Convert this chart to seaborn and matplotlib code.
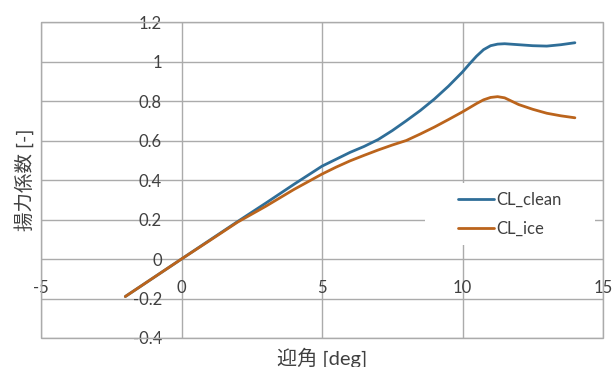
import pandas as pd
import matplotlib
matplotlib.use("Agg")
import matplotlib.pyplot as plt
from matplotlib.patches import Rectangle
from matplotlib.lines import Line2D
import seaborn as sns

# Data
aoa = [-2, -1, 0, 1, 2, 3, 4, 5, 5.5, 6, 6.5, 7, 7.5, 8, 8.5, 9, 9.5, 10, 10.25, 10.5, 10.75,
       11, 11.25, 11.5, 12, 12.5, 13, 13.5, 14]
cl_clean = [-0.19, -0.095, 0.0, 0.095, 0.19, 0.283, 0.378, 0.47, 0.505, 0.54, 0.57, 0.605, 0.65,
            0.70, 0.752, 0.81, 0.875, 0.947, 0.988, 1.027, 1.06, 1.08, 1.088, 1.09, 1.085,
            1.08, 1.078, 1.085, 1.095]
cl_ice = [-0.19, -0.095, 0.0, 0.093, 0.187, 0.267, 0.352, 0.43, 0.465, 0.497, 0.525, 0.552, 0.577,
          0.60, 0.633, 0.668, 0.706, 0.745, 0.766, 0.787, 0.806, 0.818, 0.822, 0.816, 0.782,
          0.758, 0.738, 0.725, 0.715]

xticks = [-5, 0, 5, 10, 15]
yticks = [-0.4, -0.2, 0, 0.2, 0.4, 0.6, 0.8, 1, 1.2]
ytick_labels = ["-0.4", "-0.2", "0", "0.2", "0.4", "0.6", "0.8", "1", "1.2"]
xtick_labels = ["-5", "0", "5", "10", "15"]

df = pd.DataFrame({"aoa": aoa * 2,
                   "cl": cl_clean + cl_ice,
                   "series": ["CL_clean"] * len(aoa) + ["CL_ice"] * len(aoa)})

sns.set_style("white")
plt.rcParams["font.family"] = ["Lato", "Noto Sans CJK JP", "DejaVu Sans"]
plt.rcParams["axes.unicode_minus"] = False

grid_c = "#ababab"
text_c = "#404040"
colors = {"CL_clean": "#2f6e98", "CL_ice": "#bb641c"}

fig = plt.figure(figsize=(6.16, 3.67), dpi=100)
ax = fig.add_axes([41 / 616, 1 - 338 / 367, 562 / 616, 316 / 367])

sns.lineplot(data=df, x="aoa", y="cl", hue="series", palette=colors,
             linewidth=2, ax=ax, legend=False, zorder=3)

ax.set_xlim(-5, 15)
ax.set_ylim(-0.4, 1.2)
ax.set_xticks(xticks, xtick_labels)
ax.set_yticks(yticks, ytick_labels)

ax.grid(True, color=grid_c, linewidth=1.0)
for s in ax.spines.values():
    s.set_visible(False)
# outer frame
ax.add_patch(Rectangle((0, 0), 1, 1, transform=ax.transAxes, facecolor="none",
                       edgecolor=grid_c, linewidth=1.0, clip_on=False, zorder=1))

ax.tick_params(axis="both", length=0, labelsize=12, labelcolor=text_c)
ax.tick_params(axis="y", pad=14)
ax.tick_params(axis="x", pad=15)
# tick labels sit next to the zero lines, like Excel axes crossing at 0
ax.spines["left"].set_position(("data", 0))
ax.spines["bottom"].set_position(("data", 0))

ax.set_xlabel("迎角 [deg]", fontsize=14.5, color=text_c)
ax.set_ylabel("揚力係数 [-]", fontsize=14, color=text_c)
ax.xaxis.set_label_coords(0.5, -0.03)
ax.yaxis.set_label_coords(-0.013, 0.5)

# white box behind the legend, hiding gridlines
ax.add_patch(Rectangle((0.683, 0.294), 0.3025, 0.196, transform=ax.transAxes,
                       facecolor="white", edgecolor="none", zorder=2.5))
handles = [Line2D([], [], color=colors["CL_clean"], lw=2),
           Line2D([], [], color=colors["CL_ice"], lw=2)]
ax.legend(handles, ["CL_clean", "CL_ice"], loc="center", bbox_to_anchor=(0.8345, 0.392),
          frameon=False, fontsize=12, handlelength=2.15, handletextpad=0.15,
          labelspacing=0.75, labelcolor=text_c)

fig.savefig("out.png", dpi=100)
